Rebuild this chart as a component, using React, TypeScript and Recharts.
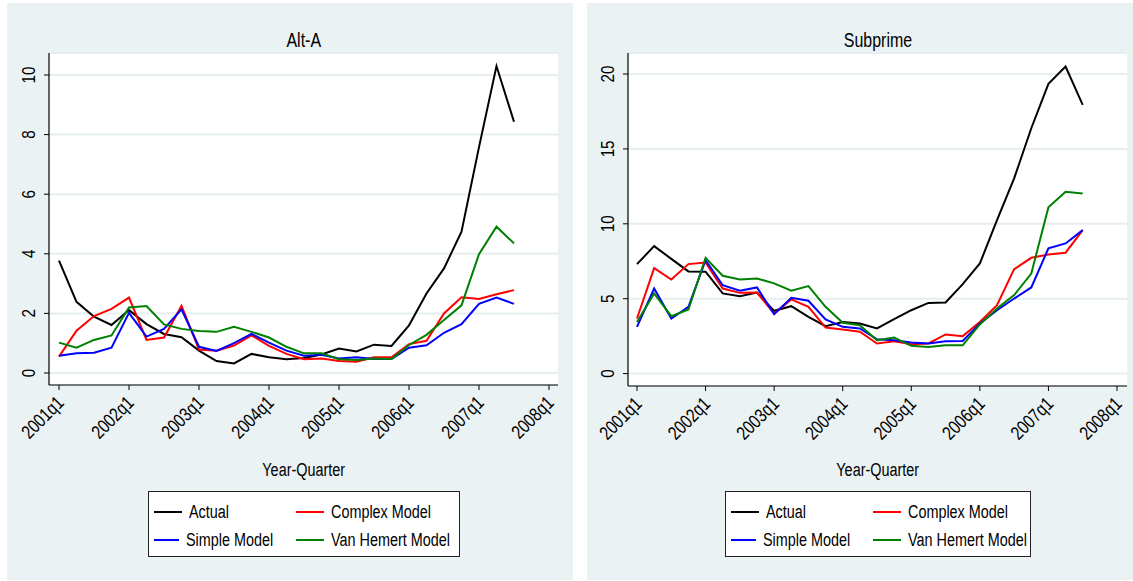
import { CartesianGrid, Line, LineChart, XAxis, YAxis } from "recharts";

// Quarters covered by the series, and the quarters that get an x-axis tick
const QUARTERS = [
  "2001q1", "2001q2", "2001q3", "2001q4",
  "2002q1", "2002q2", "2002q3", "2002q4",
  "2003q1", "2003q2", "2003q3", "2003q4",
  "2004q1", "2004q2", "2004q3", "2004q4",
  "2005q1", "2005q2", "2005q3", "2005q4",
  "2006q1", "2006q2", "2006q3", "2006q4",
  "2007q1", "2007q2", "2007q3",
];
const X_TICK_LABELS = ["2001q1", "2002q1", "2003q1", "2004q1", "2005q1", "2006q1", "2007q1", "2008q1"];

// Alt-A
const ALT_A_ACTUAL = [3.77, 2.39, 1.89, 1.61, 2.11, 1.64, 1.31, 1.2, 0.75, 0.4, 0.32, 0.64, 0.53, 0.46, 0.5, 0.62, 0.82, 0.72, 0.95, 0.91, 1.6, 2.67, 3.51, 4.74, 7.58, 10.3, 8.43];
const ALT_A_COMPLEX = [0.55, 1.42, 1.91, 2.15, 2.53, 1.11, 1.19, 2.25, 0.79, 0.75, 0.92, 1.26, 0.91, 0.64, 0.46, 0.49, 0.4, 0.38, 0.53, 0.53, 0.97, 1.08, 2.0, 2.54, 2.48, 2.64, 2.78];
const ALT_A_SIMPLE = [0.58, 0.66, 0.68, 0.85, 2.02, 1.22, 1.48, 2.14, 0.88, 0.74, 1.0, 1.31, 1.02, 0.75, 0.58, 0.61, 0.49, 0.53, 0.47, 0.47, 0.85, 0.93, 1.35, 1.64, 2.32, 2.53, 2.32];
const ALT_A_VAN_HEMERT = [1.02, 0.85, 1.11, 1.26, 2.2, 2.25, 1.63, 1.48, 1.41, 1.38, 1.55, 1.38, 1.19, 0.88, 0.66, 0.66, 0.46, 0.44, 0.49, 0.47, 0.94, 1.28, 1.78, 2.27, 3.99, 4.91, 4.35];
const ALT_A_TICKS = [0, 2, 4, 6, 8, 10];

// Subprime
const SUB_ACTUAL = [7.31, 8.51, 7.66, 6.82, 6.8, 5.35, 5.17, 5.41, 4.19, 4.5, 3.79, 3.16, 3.45, 3.34, 3.01, 3.63, 4.23, 4.72, 4.75, 5.97, 7.35, 10.25, 13.03, 16.38, 19.34, 20.5, 17.94];
const SUB_COMPLEX = [3.68, 7.04, 6.28, 7.31, 7.42, 5.68, 5.39, 5.41, 4.01, 4.95, 4.46, 3.07, 2.94, 2.79, 2.01, 2.16, 1.96, 2.01, 2.61, 2.5, 3.45, 4.57, 6.97, 7.73, 7.95, 8.07, 9.58];
const SUB_SIMPLE = [3.12, 5.68, 3.68, 4.46, 7.58, 5.9, 5.53, 5.75, 3.97, 5.06, 4.86, 3.61, 3.12, 3.01, 2.29, 2.23, 2.07, 2.01, 2.16, 2.18, 3.34, 4.23, 5.01, 5.75, 8.36, 8.69, 9.58];
const SUB_VAN_HEMERT = [3.45, 5.35, 3.83, 4.28, 7.73, 6.53, 6.28, 6.35, 6.02, 5.53, 5.84, 4.46, 3.39, 3.23, 2.23, 2.41, 1.85, 1.78, 1.89, 1.89, 3.28, 4.34, 5.24, 6.68, 11.1, 12.14, 12.03];
const SUB_TICKS = [0, 5, 10, 15, 20];

const SERIES = [
  { key: "actual", label: "Actual", color: "#000000" },
  { key: "complex", label: "Complex Model", color: "#ff0000" },
  { key: "simple", label: "Simple Model", color: "#0000ff" },
  { key: "vanHemert", label: "Van Hemert Model", color: "#008000" },
];

// Liberation Sans squeezed horizontally stands in for a narrow Helvetica
const FONT = "'Liberation Sans', Arial, sans-serif";
const SQUEEZE = 0.8;
const PANEL_BG = "#eaf2f3";
const GRID = "#e6eef0";
const PANEL_HEIGHT = 577;
const PLOT_TOP = 50;
const Y_AXIS_W = 36;
const X_AXIS_H = 60;

function quarterIndex(label: string): number {
  const [year, q] = label.split("q");
  return (Number(year) - 2001) * 4 + Number(q) - 1;
}

function buildRows(actual: number[], complex: number[], simple: number[], vanHemert: number[]) {
  return QUARTERS.map((q, i) => ({
    q: quarterIndex(q),
    actual: actual[i],
    complex: complex[i],
    simple: simple[i],
    vanHemert: vanHemert[i],
  }));
}

function QuarterTick(props: any) {
  const { x, y, payload } = props;
  const label = X_TICK_LABELS.find((l) => quarterIndex(l) === payload.value) ?? "";
  return (
    <text
      x={0}
      y={0}
      transform={`translate(${x + 6},${y + 12}) rotate(-45) scale(${SQUEEZE},1)`}
      textAnchor="end"
      fontSize={19}
      fontFamily={FONT}
      fill="#000"
    >
      {label}
    </text>
  );
}

function ValueTick(props: any) {
  const { x, y, payload } = props;
  return (
    <text
      x={0}
      y={0}
      transform={`translate(${x - 7},${y}) rotate(-90) scale(${SQUEEZE},1)`}
      textAnchor="middle"
      fontSize={19}
      fontFamily={FONT}
      fill="#000"
    >
      {payload.value}
    </text>
  );
}

function Narrow({ children, size, squeeze = SQUEEZE }: { children: React.ReactNode; size: number; squeeze?: number }) {
  return (
    <span
      style={{
        display: "inline-block",
        fontSize: size,
        whiteSpace: "nowrap",
        transform: `scaleX(${squeeze})`,
        transformOrigin: "left center",
        color: "#000",
      }}
    >
      {children}
    </span>
  );
}

function CenteredText({ text, center, top, size, squeeze }: { text: string; center: number; top: number; size: number; squeeze: number }) {
  return (
    <div style={{ position: "absolute", left: center - 150, width: 300, top, lineHeight: "24px", textAlign: "center" }}>
      <span
        style={{
          display: "inline-block",
          fontSize: size,
          whiteSpace: "nowrap",
          transform: `scaleX(${squeeze})`,
          color: "#000",
        }}
      >
        {text}
      </span>
    </div>
  );
}

function LegendBox({ left, width }: { left: number; width: number }) {
  return (
    <div
      style={{
        position: "absolute",
        left,
        top: 488,
        width,
        height: 66,
        boxSizing: "border-box",
        border: "1px solid #222",
        background: "#fff",
        padding: "6px 5px",
        display: "grid",
        gridTemplateColumns: "142px auto",
        gridAutoRows: "28px",
      }}
    >
      {SERIES.map((s) => (
        <div key={s.key} style={{ display: "flex", alignItems: "center" }}>
          <span style={{ display: "inline-block", width: 28, height: 2, background: s.color, marginRight: 7 }} />
          <Narrow size={18}>{s.label}</Narrow>
        </div>
      ))}
    </div>
  );
}

interface PanelProps {
  title: string;
  left: number;
  width: number;
  plotLeft: number;
  plotRight: number;
  plotBottom: number;
  xPadding: { left: number; right: number };
  yDomain: [number, number];
  yTicks: number[];
  rows: ReturnType<typeof buildRows>;
  legendWidth: number;
}

function Panel({ title, left, width, plotLeft, plotRight, plotBottom, xPadding, yDomain, yTicks, rows, legendWidth }: PanelProps) {
  const plotCenter = (plotLeft + plotRight) / 2;
  return (
    <div style={{ position: "absolute", left, top: 3, width, height: PANEL_HEIGHT, background: PANEL_BG }}>
      <CenteredText text={title} center={plotCenter} top={25} size={21} squeeze={0.76} />
      <div style={{ position: "absolute", left: 0, top: 0 }}>
        <LineChart
          width={width}
          height={PANEL_HEIGHT}
          data={rows}
          margin={{
            top: PLOT_TOP,
            right: width - plotRight,
            left: plotLeft - Y_AXIS_W,
            bottom: PANEL_HEIGHT - plotBottom - X_AXIS_H,
          }}
        >
          <CartesianGrid horizontal vertical={false} stroke={GRID} strokeWidth={2} fill="#fff" />
          <XAxis
            type="number"
            dataKey="q"
            domain={[0, 28]}
            ticks={X_TICK_LABELS.map(quarterIndex)}
            interval={0}
            padding={xPadding}
            height={X_AXIS_H}
            tickSize={5}
            tickMargin={2}
            tick={<QuarterTick />}
            axisLine={{ stroke: "#000", strokeWidth: 1.2 }}
            tickLine={{ stroke: "#000" }}
          />
          <YAxis
            type="number"
            domain={yDomain}
            ticks={yTicks}
            interval={0}
            width={Y_AXIS_W}
            tickSize={5}
            tickMargin={2}
            tick={<ValueTick />}
            axisLine={{ stroke: "#000", strokeWidth: 1.2 }}
            tickLine={{ stroke: "#000" }}
          />
          {SERIES.map((s) => (
            <Line
              key={s.key}
              type="linear"
              dataKey={s.key}
              stroke={s.color}
              strokeWidth={2}
              dot={false}
              activeDot={false}
              isAnimationActive={false}
            />
          ))}
        </LineChart>
      </div>
      <CenteredText text="Year-Quarter" center={plotCenter} top={455} size={18} squeeze={SQUEEZE} />
      <LegendBox left={plotCenter - legendWidth / 2} width={legendWidth} />
    </div>
  );
}

export default function App() {
  const altA = buildRows(ALT_A_ACTUAL, ALT_A_COMPLEX, ALT_A_SIMPLE, ALT_A_VAN_HEMERT);
  const subprime = buildRows(SUB_ACTUAL, SUB_COMPLEX, SUB_SIMPLE, SUB_VAN_HEMERT);
  return (
    <div
      style={{
        position: "absolute",
        left: 0,
        top: 0,
        width: 1133,
        height: 581,
        background: "#fff",
        overflow: "hidden",
        fontFamily: FONT,
      }}
    >
      <Panel
        title="Alt-A"
        left={7}
        width={566}
        plotLeft={42}
        plotRight={551}
        plotBottom={382}
        xPadding={{ left: 10, right: 9 }}
        yDomain={[-0.403, 10.738]}
        yTicks={ALT_A_TICKS}
        rows={altA}
        legendWidth={312}
      />
      <Panel
        title="Subprime"
        left={587}
        width={546}
        plotLeft={41}
        plotRight={540}
        plotBottom={383}
        xPadding={{ left: 9, right: 10 }}
        yDomain={[-0.829, 21.403]}
        yTicks={SUB_TICKS}
        rows={subprime}
        legendWidth={306}
      />
    </div>
  );
}
